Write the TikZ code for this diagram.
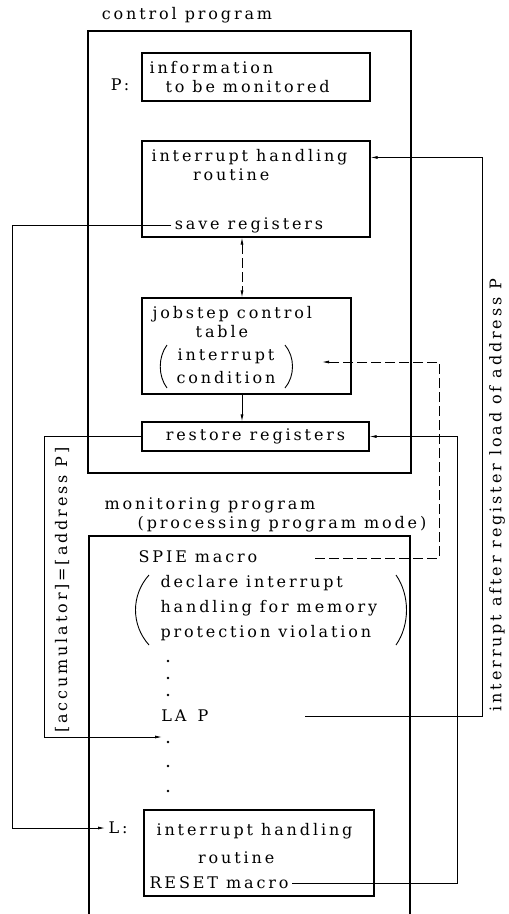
\documentclass[tikz,border=0pt]{standalone}
\usepackage{fontspec}
\setmainfont{DejaVu Serif}[LetterSpace=18]
\usepackage{tikz}
\usetikzlibrary{calc, positioning, arrows.meta}

\begin{document}
\begin{tikzpicture}[x=1pt, y=-1pt, font=\fontsize{16}{19}\selectfont,
    >={Latex[length=7pt, width=3pt]},
    box/.style={draw, line width=1.1pt, inner sep=0pt},
    conn/.style={line width=0.8pt},
    dsh/.style={conn, dash pattern=on 10pt off 4pt},
    paren/.style={line width=0.9pt}]
  \useasboundingbox (0,0) rectangle (509,914);

  % rails for the connectors
  \coordinate (lrail) at (12,0);
  \coordinate (arail) at (44,0);
  \coordinate (mid) at (242,0);
  \coordinate (drail) at (439,0);
  \coordinate (rrail) at (457,0);
  \coordinate (irail) at (482,0);

  % control program
  \node[box, minimum width=323pt, minimum height=442pt] (ctrl) at (249.5,252) {};
  \node (ctrltitle) at (187,15) {control program};
  \node[box, minimum width=228pt, minimum height=48pt] (info) at (256,77) {};
  \node[align=left, anchor=west] (infotxt) at (146,77) {information\\\hspace{1em}to be monitored};
  \node (plbl) at (120,85) {P:};
  \node[box, minimum width=228pt, minimum height=96pt] (ihr) at (256,189) {};
  \node[align=left, anchor=west] (ihrtxt) at (148,165) {interrupt handling\\\hspace{2.6em}routine};
  \node (save) at (249,225) {save registers};
  \node[box, minimum width=209pt, minimum height=96pt] (job) at (246.5,346) {};
  \node[align=left, anchor=west] (jobtxt) at (149,322) {jobstep control\\\hspace{2.7em}table};
  \node[align=center] (cond) at (226,366) {interrupt\\[4pt]condition};
  \draw[paren] (167,345) .. controls (158,357) and (158,376) .. (167,388);
  \draw[paren] (285,345) .. controls (295,357) and (295,376) .. (285,388);
  \node[box, minimum width=227pt, minimum height=29pt] (restore) at (255.5,436.5) {restore registers};

  % monitoring program
  \draw[line width=1.1pt] (89,914) |- (410,536) -- (410,914);
  \node (montitle) at (210,505) {monitoring program};
  \node (monmode) at (282,524) {(processing program mode)};
  \node (spie) at (198,557) {SPIE macro};
  \node[align=left, anchor=west] (decl) at (157,608) {declare interrupt\\[6pt]handling for memory\\[6pt]protection violation};
  \draw[paren] (149,575) .. controls (131,595) and (131,625) .. (149,645);
  \draw[paren] (396,575) .. controls (410,595) and (410,625) .. (396,645);
  \foreach \y in {661,678,695,742,766,791}
    \fill (168,\y) circle (1.3);
  \node (lap) at (185,716) {LA\hspace{0.7em}P};
  \node (lbl) at (118,828) {L:};
  \node[box, minimum width=230pt, minimum height=86pt] (lbox) at (259,853) {};
  \node[align=left, anchor=west] (lboxtxt) at (153,844) {interrupt handling\\[9pt]\hspace{2.6em}routine};
  \node[anchor=west] (reset) at (146,883) {RESET macro};

  \coordinate (lapin) at (162,737);
  \coordinate (lapout) at (305,716);
  \coordinate (spieout) at (315,558);
  \coordinate (condin) at (322,362);
  \coordinate (ihrin) at ($(ihr.north east)+(0,17)$);

  % connectors
  \draw[conn, ->] (save.west) -- (save.west -| lrail) |- (lbl.west);
  \draw[dsh, <->] (ihr.south -| mid) -- (job.north -| mid);
  \draw[conn, ->] (job.south -| mid) -- (restore.north -| mid);
  \draw[conn, ->] (restore.west) -- (restore.west -| arail) |- (lapin);
  \node[rotate=90] (acc) at (62,590) {[accumulator]=[address P]};
  \draw[conn, ->] (reset.east) -- (reset.east -| rrail) |- (restore.east);
  \draw[conn, ->] (lapout) -- (lapout -| irail) |- (ihrin);
  \node[rotate=90] (intlbl) at (497,495) {interrupt after register load of address P};
  \draw[dsh, ->] (spieout) -- (spieout -| drail) |- (condin);
\end{tikzpicture}
\end{document}
